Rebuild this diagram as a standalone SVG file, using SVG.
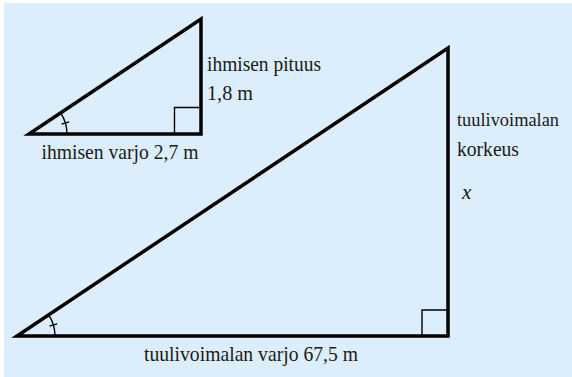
<svg xmlns="http://www.w3.org/2000/svg" width="572" height="377" viewBox="0 0 572 377">
<style>
.tri{fill:none;stroke:#000;stroke-width:3.5;stroke-linejoin:miter}
.thin{fill:none;stroke:#000;stroke-width:1.4}
.lbl{font-family:'Liberation Serif','Times New Roman',serif;font-size:21px;fill:#1a1a1a}
.math{font-style:italic}
</style>
<rect x="4" y="3" width="568" height="374" fill="#dceefb"/>
<g id="small-triangle">
<polygon class="tri" points="29,134 201,134 201,19"/>
<polyline class="thin" points="174.5,134 174.5,107.5 201,107.5"/>
<path class="thin" d="M67,134 A38,38 0 0 0 60.6,112.9"/>
<line class="thin" x1="61.5" y1="124.1" x2="69.2" y2="121.8"/>
</g>
<g id="large-triangle">
<polygon class="tri" points="17,336 448,336 448,48"/>
<polyline class="thin" points="422,336 422,310 448,310"/>
<path class="thin" d="M55,336 A38,38 0 0 0 48.6,314.9"/>
<line class="thin" x1="49.5" y1="326.1" x2="57.2" y2="323.8"/>
</g>
<g id="labels" class="lbl">
<text x="207" y="71" textLength="114" lengthAdjust="spacingAndGlyphs">ihmisen pituus</text>
<text x="207" y="100" textLength="46" lengthAdjust="spacingAndGlyphs">1,8 m</text>
<text x="41.5" y="158.5" textLength="157" lengthAdjust="spacingAndGlyphs">ihmisen varjo 2,7 m</text>
<text x="457" y="126" font-size="19.5" textLength="102" lengthAdjust="spacingAndGlyphs">tuulivoimalan</text>
<text x="457" y="156" textLength="62" lengthAdjust="spacingAndGlyphs">korkeus</text>
<text class="math" x="462" y="198.5">x</text>
<text x="144" y="361" textLength="214" lengthAdjust="spacingAndGlyphs">tuulivoimalan varjo 67,5 m</text>
</g>
</svg>
